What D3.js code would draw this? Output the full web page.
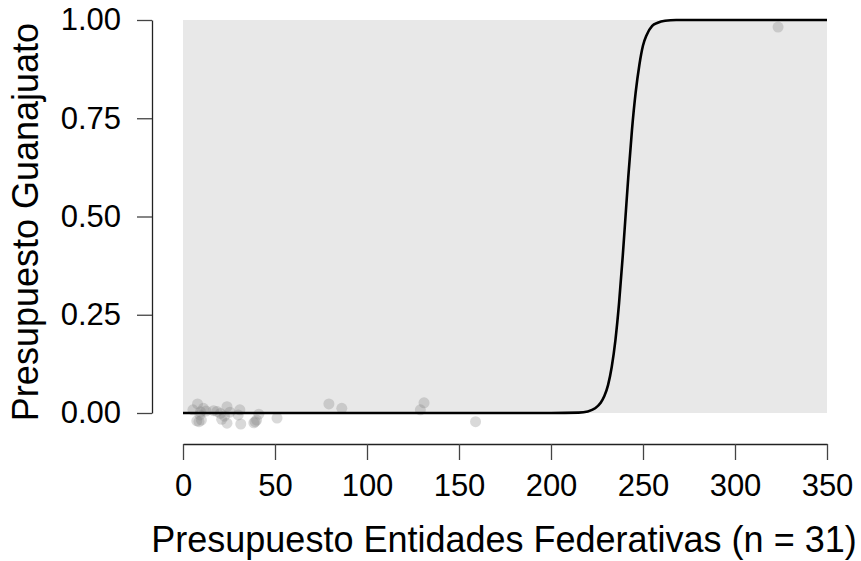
<!DOCTYPE html>
<html>
<head>
<meta charset="utf-8">
<script src="https://cdn.jsdelivr.net/npm/d3@7"></script>
<style>
  html, body { margin: 0; padding: 0; background: #fff; }
  svg text { font-family: "Liberation Sans", Arial, Helvetica, sans-serif; fill: #000; }
</style>
</head>
<body>
<svg id="chart" width="861" height="561"></svg>
<script>
// ---- data ----
const xTicks = [0, 50, 100, 150, 200, 250, 300, 350];
const yTicks = [0, 0.25, 0.5, 0.75, 1];
const yTickLabels = ["0.00", "0.25", "0.50", "0.75", "1.00"];
const xTitle = "Presupuesto Entidades Federativas (n = 31)";
const yTitle = "Presupuesto Guanajuato";

// jittered observations (x = presupuesto entidades, y = presupuesto Guanajuato, jittered)
const pointX = [7.9, 11.1, 5.4, 9.2, 8.7, 16.6, 20.3, 23.9, 21.0, 23.9,
                30.9, 31.4, 39.2, 41.2, 51.1, 79.3, 86.3, 129.0, 131.0, 159.0,
                323.4, 10.0, 7.5, 12.5, 18.5, 25.5, 30.0, 38.5, 40.0, 9.5, 22.5];
const pointY = [0.023, 0.012, 0.008, -0.005, -0.022, 0.006, -0.001, 0.016, -0.016, -0.026,
                0.008, -0.028, -0.022, -0.003, -0.013, 0.023, 0.012, 0.008, 0.026, -0.022,
                0.982, -0.018, -0.020, 0.005, 0.004, 0.002, -0.005, -0.025, -0.018, 0.003, -0.008];

// fitted curve, points
const curveX = [0, 200, 215, 220, 224, 227, 229, 231, 233, 235, 237, 239, 240.5,
                242, 244, 246, 248, 250, 252, 255, 258, 262, 268, 350];
const curveY = [0, 0, 0.001, 0.004, 0.012, 0.026, 0.043, 0.071, 0.117, 0.185, 0.28, 0.40, 0.5,
                0.60, 0.72, 0.815, 0.885, 0.935, 0.962, 0.985, 0.993, 0.998, 1, 1];

// ---- drawing ----
const svg = d3.select("#chart");
const x = d3.scaleLinear().domain([0, 350]).range([183, 827]);
const y = d3.scaleLinear().domain([0, 1]).range([413, 20]);

// panel background
svg.append("rect")
  .attr("x", x(0)).attr("y", y(1))
  .attr("width", x(350) - x(0)).attr("height", y(0) - y(1))
  .attr("fill", "#e8e8e8");

// points
svg.append("g").selectAll("circle")
  .data(pointX.map((v, i) => [v, pointY[i]]))
  .join("circle")
  .attr("cx", d => x(d[0]))
  .attr("cy", d => y(d[1]))
  .attr("r", 5.5)
  .attr("fill", "#808080")
  .attr("fill-opacity", 0.3);

// curve
const line = d3.line()
  .x(d => x(d[0])).y(d => y(d[1]))
  .curve(d3.curveMonotoneX);
svg.append("path")
  .datum(curveX.map((v, i) => [v, curveY[i]]))
  .attr("d", line)
  .attr("fill", "none")
  .attr("stroke", "#000")
  .attr("stroke-width", 2.6);

// x axis
const xAxis = svg.append("g")
  .attr("transform", "translate(0,444)")
  .call(d3.axisBottom(x).tickValues(xTicks).tickSize(16).tickPadding(14).tickSizeOuter(0).tickFormat(d3.format("d")));
xAxis.select(".domain").attr("stroke", "#222").attr("stroke-width", 1.3);
xAxis.selectAll(".tick line").attr("stroke", "#444").attr("stroke-width", 1.3);
xAxis.selectAll("text").attr("font-size", 31).attr("fill", "#000")
  .attr("font-family", "'Liberation Sans', Arial, sans-serif");

// y axis
const yAxis = svg.append("g")
  .attr("transform", "translate(152,0)")
  .call(d3.axisLeft(y).tickValues(yTicks).tickSize(15).tickPadding(16).tickSizeOuter(0)
        .tickFormat((d, i) => yTickLabels[i]));
yAxis.select(".domain").attr("stroke", "#222").attr("stroke-width", 1.3);
yAxis.selectAll(".tick line").attr("stroke", "#444").attr("stroke-width", 1.3);
yAxis.selectAll("text").attr("font-size", 31).attr("fill", "#000")
  .attr("font-family", "'Liberation Sans', Arial, sans-serif");

// titles
svg.append("text")
  .attr("x", 504).attr("y", 552)
  .attr("text-anchor", "middle")
  .attr("font-size", 36)
  .text(xTitle);

svg.append("text")
  .attr("transform", "translate(38,222) rotate(-90)")
  .attr("text-anchor", "middle")
  .attr("font-size", 36)
  .text(yTitle);
</script>
</body>
</html>
